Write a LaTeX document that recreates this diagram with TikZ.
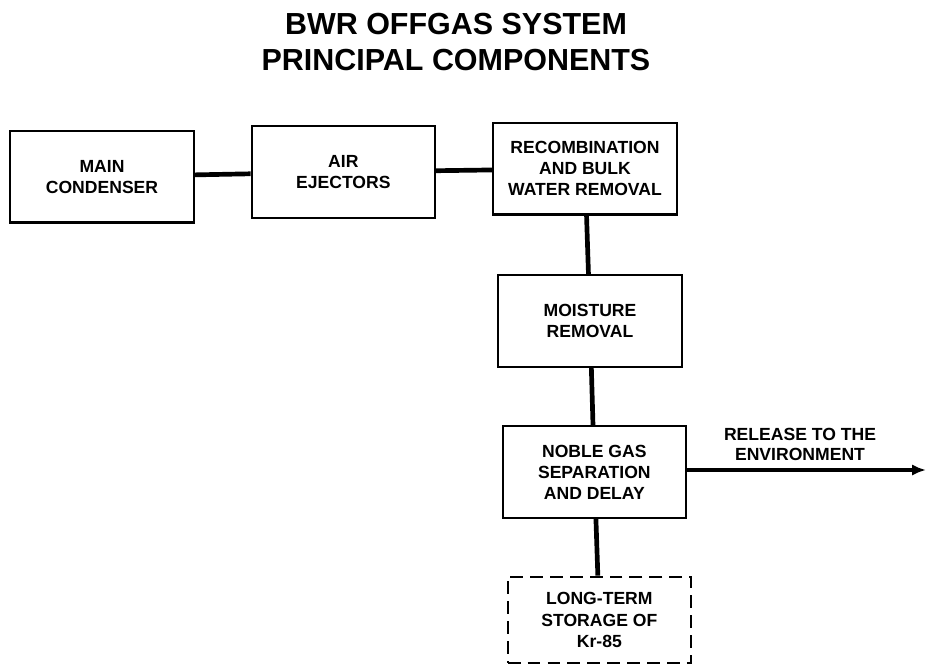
\documentclass[tikz,border=0pt]{standalone}
\usepackage{fontspec}
\setmainfont{Liberation Sans}
\usetikzlibrary{arrows.meta}
\tikzset{
  unit/.style={draw, line width=1.8pt, minimum width=5.5cm, minimum height=2.75cm,
               align=center, inner sep=0pt, font=\bfseries\fontsize{15}{18}\selectfont},
  storebox/.style={unit, minimum height=2.6cm, dash pattern=on 11pt off 6pt},
  pipe/.style={line width=4pt},
  caption/.style={align=center, font=\bfseries\fontsize{15}{17}\selectfont},
}

\begin{document}
\begin{tikzpicture}
    \useasboundingbox (0,0) rectangle (27.84,-19.95);
    \node[align=center, font=\bfseries\fontsize{26}{30.5}\selectfont] (title) at (13.68,-1.25)
      {BWR OFFGAS SYSTEM\\PRINCIPAL COMPONENTS};
    \node[unit] (cond) at (3.06,-5.3) {MAIN\\CONDENSER};
    \node[unit] (eject) at (10.3,-5.16) {AIR\\EJECTORS};
    \node[unit] (recomb) at (17.55,-5.06) {RECOMBINATION\\AND BULK\\WATER REMOVAL};
    \node[unit] (moist) at (17.7,-9.63) {MOISTURE\\REMOVAL};
    \node[unit] (noble) at (17.83,-14.16) {NOBLE GAS\\SEPARATION\\AND DELAY};
    \node[storebox] (store) at (17.98,-18.6) {LONG-TERM\\STORAGE OF\\Kr-85};
    \coordinate (env) at (27.78,-14.1);
    \node[caption] (release) at (24.0,-13.32) {RELEASE TO THE\\ENVIRONMENT};
    \draw[pipe] (cond) -- (eject);
    \draw[pipe] (eject) -- (recomb);
    \draw[pipe] (recomb) -- (moist);
    \draw[pipe] (moist) -- (noble);
    \draw[pipe] (noble) -- (store);
    \draw[pipe, -{Latex[length=4.2mm, width=3.4mm]}] (noble.east |- env) -- (env);
\end{tikzpicture}
\end{document}
